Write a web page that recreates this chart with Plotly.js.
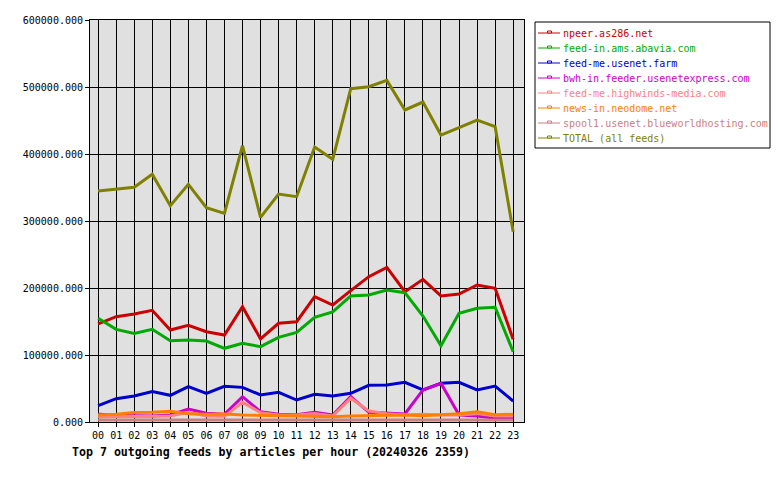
<!DOCTYPE html>
<html>
<head>
<meta charset="utf-8">
<script src="https://cdn.plot.ly/plotly-3.0.1.min.js"></script>
<style>html,body{margin:0;padding:0;background:#fff;}#chart{width:780px;height:480px;}</style>
</head>
<body>
<div id="chart"></div>
<script>
const hours = ['00','01','02','03','04','05','06','07','08','09','10','11','12','13','14','15','16','17','18','19','20','21','22','23'];

const npeer = [146300,157200,161200,166700,137300,144300,134800,129800,172100,123900,147300,149700,187000,174600,196000,216900,230900,194500,213000,188100,191000,204500,199500,123400];
const feedInAms = [154800,138300,132300,138300,121400,122400,120900,110000,117400,112400,126400,133800,156200,164200,188100,189500,197000,193000,158200,113900,162200,169700,171200,104900];
const feedMeFarm = [24400,34800,38800,45300,39800,52700,42800,53200,51700,40300,44300,32800,41300,38800,42800,54700,55200,59200,47800,57700,59200,47800,53700,31300];
const bwhIn = [11500,10000,9500,9000,10500,19400,13000,11500,37800,15400,11500,11000,14400,10500,37800,14400,13400,12000,47800,57700,10500,9000,5500,6500];
const highwinds = [8000,8000,8000,8500,9000,14400,9000,8500,29400,14000,10500,10500,12500,9000,35400,16400,12500,10500,11500,10500,10500,12500,9000,9000];
const neodome = [10400,11500,14000,14400,16000,12500,11500,12000,10500,9500,9500,9000,8000,8000,9000,9500,10500,10500,9500,10500,12500,15400,11000,11500];
const spool1 = [3000,3000,3000,3000,3000,3000,3000,3000,3000,3000,3000,3000,3000,3000,3000,3000,3000,3000,3000,3000,3000,3000,3000,3000];
const total = [344800,347300,350300,369700,322900,354700,319900,311400,412400,305500,340300,336300,410400,392000,497500,500400,509900,465700,477600,428300,439800,450700,440800,284000];

const names = ['npeer.as286.net','feed-in.ams.abavia.com','feed-me.usenet.farm','bwh-in.feeder.usenetexpress.com','feed-me.highwinds-media.com','news-in.neodome.net','spool1.usenet.blueworldhosting.com','TOTAL (all feeds)'];
const colors = ['#cc0000','#00aa00','#0000cc','#cc00cc','#ff8080','#ff8000','#cc8080','#808000'];
const series = [npeer, feedInAms, feedMeFarm, bwhIn, highwinds, neodome, spool1, total];

const traces = series.map((ys, i) => ({
  x: hours,
  y: ys,
  type: 'scatter',
  mode: 'lines',
  name: names[i],
  line: {color: colors[i], width: 3},
  showlegend: false,
  hoverinfo: 'skip'
}));

const mono = '"DejaVu Sans Mono", "Liberation Mono", monospace';

// plot area in pixels: x 90..524, y 20..422
const PL = 90, PR = 524, PT = 20, PB = 422;
const px = v => (v - PL) / (PR - PL);
const py = v => (PB - v) / (PB - PT);

const shapes = [];
const annotations = [];
// legend box
shapes.push({type: 'rect', xref: 'paper', yref: 'paper',
  x0: px(535), x1: px(770), y0: py(22), y1: py(148),
  line: {color: '#000000', width: 1}, fillcolor: '#ffffff', layer: 'above'});
names.forEach((n, i) => {
  const yc = 33 + i * 15;
  shapes.push({type: 'line', xref: 'paper', yref: 'paper',
    x0: px(538), x1: px(560), y0: py(yc), y1: py(yc),
    line: {color: colors[i], width: 1}, layer: 'above'});
  shapes.push({type: 'rect', xref: 'paper', yref: 'paper',
    x0: px(547.5), x1: px(551.5), y0: py(yc - 2), y1: py(yc),
    line: {color: colors[i], width: 1}, fillcolor: '#ffffff', layer: 'above'});
  annotations.push({xref: 'paper', yref: 'paper', x: px(561), y: py(yc),
    xanchor: 'left', yanchor: 'middle', showarrow: false,
    text: n, font: {family: mono, size: 10, color: colors[i]}});
});

const layout = {
  width: 780,
  height: 480,
  paper_bgcolor: '#ffffff',
  plot_bgcolor: '#e0e0e0',
  margin: {l: 90, r: 256, t: 20, b: 58, pad: 0},
  font: {family: mono, size: 10, color: '#000000'},
  showlegend: false,
  shapes: shapes,
  annotations: annotations,
  title: {
    text: '<b>Top 7 outgoing feeds by articles per hour (20240326 2359)</b>',
    xref: 'container', yref: 'container',
    x: 72/780, xanchor: 'left',
    y: 1 - 452/480, yanchor: 'middle',
    font: {family: mono, size: 11.6, color: '#000000'}
  },
  xaxis: {
    type: 'category',
    range: [-0.45, 23.6],
    showgrid: true,
    gridcolor: '#000000',
    gridwidth: 1,
    showline: true,
    linecolor: '#000000',
    linewidth: 1,
    mirror: true,
    ticks: 'outside',
    ticklen: 4,
    tickcolor: '#000000',
    tickfont: {family: mono, size: 10},
    zeroline: false,
    fixedrange: true
  },
  yaxis: {
    range: [0, 600000],
    tickvals: [0,100000,200000,300000,400000,500000,600000],
    tickformat: '.3f',
    showgrid: true,
    gridcolor: '#000000',
    gridwidth: 1,
    showline: true,
    linecolor: '#000000',
    linewidth: 1,
    mirror: true,
    ticks: 'outside',
    ticklen: 4,
    tickcolor: '#000000',
    tickfont: {family: mono, size: 10},
    zeroline: false,
    fixedrange: true
  }
};

Plotly.newPlot('chart', traces, layout, {displayModeBar: false, staticPlot: true});
</script>
</body>
</html>
